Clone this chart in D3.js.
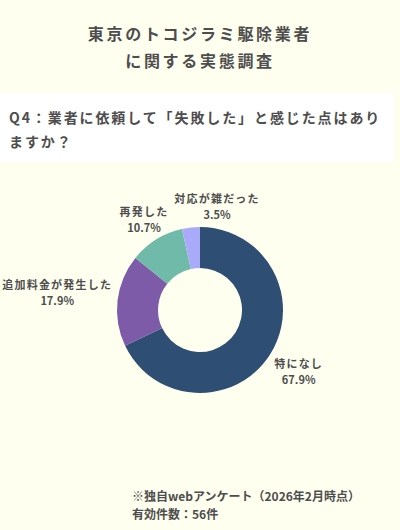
<!DOCTYPE html>
<html lang="ja">
<head>
  <meta charset="UTF-8"/>
  <title>東京のトコジラミ駆除業者に関する実態調査</title>
  <script src="https://d3js.org/d3.v7.min.js"></script>
  <style>
    body { margin: 0; background: #fffff0; }
    svg { display: block; font-family: "Noto Sans CJK JP", "Noto Sans", sans-serif; }
  </style>
</head>
<body>
<svg id="chart"></svg>
<script>
// data
const categories = ["特になし", "追加料金が発生した", "再発した", "対応が雑だった"];
const shares = [67.9, 17.9, 10.7, 3.5];
const sliceColors = ["#2e4e73", "#7e5ba8", "#6fbaa8", "#a9aafa"];
const titleLines = ["東京のトコジラミ駆除業者", "に関する実態調査"];
const questionLines = ["Q4：業者に依頼して「失敗した」と感じた点はあり", "ますか？"];
const noteLines = ["※独自webアンケート（2026年2月時点）", "有効件数：56件"];

const width = 400, height = 530;
const cx = 200, cy = 310;
const outerR = 83, innerR = 42;
const textColor = "#4d4d4d";

const svg = d3.select("#chart")
  .attr("width", width)
  .attr("height", height);

svg.append("rect")
  .attr("width", width).attr("height", height)
  .attr("fill", "#fffff0");

// title
svg.append("g").selectAll("text")
  .data(titleLines)
  .join("text")
  .attr("x", width / 2)
  .attr("y", (d, i) => 40 + i * 27)
  .attr("text-anchor", "middle")
  .attr("font-size", 16)
  .attr("font-weight", "bold")
  .attr("letter-spacing", 2.7)
  .attr("fill", textColor)
  .text(d => d);

// question box
svg.append("rect")
  .attr("x", 0).attr("y", 93)
  .attr("width", 394).attr("height", 69)
  .attr("fill", "#ffffff");

svg.append("g").selectAll("text")
  .data(questionLines)
  .join("text")
  .attr("x", 9)
  .attr("y", (d, i) => 123 + i * 24)
  .attr("font-size", 14)
  .attr("font-weight", "bold")
  .attr("letter-spacing", 1.9)
  .attr("fill", textColor)
  .text(d => d);

// donut
const pie = d3.pie().sort(null).value(d => d)(shares);
const arc = d3.arc().innerRadius(innerR).outerRadius(outerR);

const g = svg.append("g").attr("transform", `translate(${cx},${cy})`);

g.selectAll("path")
  .data(pie)
  .join("path")
  .attr("d", arc)
  .attr("fill", (d, i) => sliceColors[i]);

// labels: each box sits just outside the ring along the slice's mid angle
const labelR = 88.5;
const labelH = 30;
const gap = 6;

const labels = g.selectAll("g.label")
  .data(pie)
  .join("g")
  .attr("class", "label");

labels.append("text")
  .attr("text-anchor", "middle")
  .attr("y", -4)
  .attr("font-size", 11)
  .attr("font-weight", "bold")
  .attr("letter-spacing", 1.2)
  .attr("fill", textColor)
  .text((d, i) => categories[i]);

labels.append("text")
  .attr("text-anchor", "middle")
  .attr("y", 12)
  .attr("font-size", 11)
  .attr("font-weight", 600)
  .attr("fill", textColor)
  .text((d, i) => shares[i].toFixed(1) + "%");

const boxes = [];
labels.each(function (d, i) {
  const w = this.getBBox().width;
  const a = (d.startAngle + d.endAngle) / 2;
  const sx = Math.sin(a), sy = -Math.cos(a);
  // distance from box centre to its edge along the ray
  const t = Math.min(
    Math.abs(sx) > 1e-6 ? (w / 2) / Math.abs(sx) : Infinity,
    Math.abs(sy) > 1e-6 ? (labelH / 2) / Math.abs(sy) : Infinity
  );
  const b = { node: this, w: w, x: (labelR + t) * sx, y: (labelR + t) * sy };
  // push sideways off any earlier label it would hit
  boxes.forEach(p => {
    if (Math.abs(b.x - p.x) < (b.w + p.w) / 2 + gap && Math.abs(b.y - p.y) < labelH) {
      b.x = p.x + (b.w + p.w) / 2 + gap;
    }
  });
  boxes.push(b);
  d3.select(this).attr("transform", `translate(${b.x},${b.y})`);
});

// note
svg.append("g").selectAll("text")
  .data(noteLines)
  .join("text")
  .attr("x", 132)
  .attr("y", (d, i) => 501 + i * 18)
  .attr("font-size", 12)
  .attr("font-weight", "bold")
  .attr("fill", textColor)
  .text(d => d);
</script>
</body>
</html>
